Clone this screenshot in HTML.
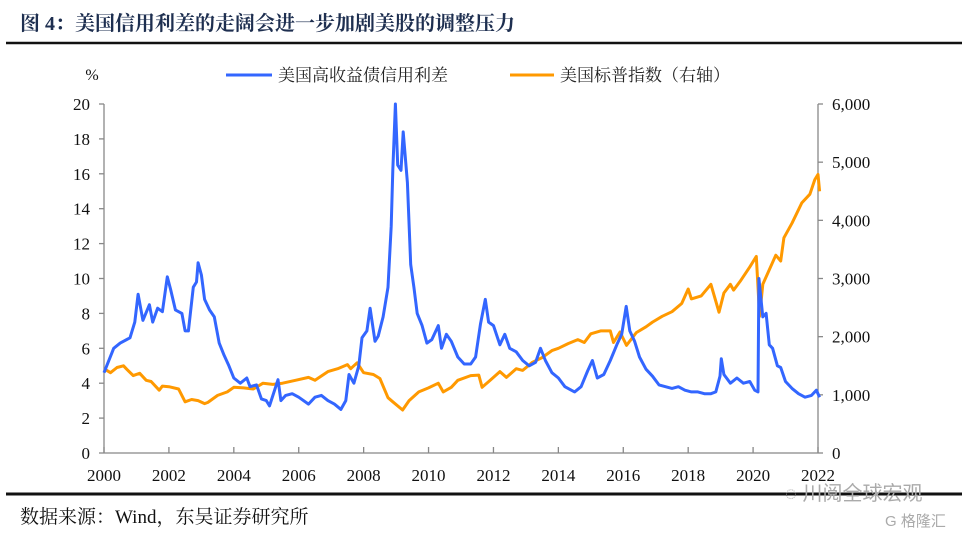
<!DOCTYPE html>
<html><head><meta charset="utf-8">
<style>
body{margin:0;background:#fff;width:968px;height:536px;overflow:hidden;}
svg{display:block}
svg text{font-family:"Liberation Serif","Noto Serif CJK SC",serif;}
svg text.wm{font-family:"Liberation Sans","Noto Sans CJK SC",sans-serif;}
</style></head>
<body>
<svg id="c" width="968" height="536">
<text x="20" y="30" font-size="20" font-weight="bold" fill="#1e2f50">图 4：美国信用利差的走阔会进一步加剧美股的调整压力</text>
<line x1="6" y1="43" x2="962" y2="43" stroke="#111" stroke-width="2.5"/>
<line x1="6" y1="494" x2="962" y2="494" stroke="#111" stroke-width="3"/>
<text x="20" y="523" font-size="19" fill="#111">数据来源：Wind，东吴证券研究所</text>
<text class="wm" x="785" y="500" font-size="20" fill="#aaa">◌ 川阅全球宏观</text>
<text class="wm" x="885" y="526" font-size="15" fill="#aaa">G 格隆汇</text>
<text x="92" y="80" font-size="16" fill="#111" text-anchor="middle">%</text>
<line x1="226" y1="75" x2="272" y2="75" stroke="#3366ff" stroke-width="3"/>
<text x="278" y="81" font-size="17" fill="#222">美国高收益债信用利差</text>
<line x1="510" y1="75" x2="554" y2="75" stroke="#ff9900" stroke-width="3"/>
<text x="560" y="81" font-size="17" fill="#222">美国标普指数（右轴）</text>
<g id="axes"></g>
<g id="series"></g>
</svg>
<script>
const spreadYears=[2000.0,2000.3,2000.5,2000.8,2000.95,2001.05,2001.2,2001.4,2001.5,2001.65,2001.8,2001.95,2002.05,2002.2,2002.4,2002.5,2002.6,2002.75,2002.85,2002.9,2003.0,2003.1,2003.25,2003.4,2003.55,2003.7,2003.85,2004.0,2004.2,2004.4,2004.5,2004.7,2004.85,2005.0,2005.1,2005.36,2005.45,2005.6,2005.8,2006.0,2006.3,2006.5,2006.7,2006.9,2007.1,2007.3,2007.45,2007.55,2007.7,2007.85,2007.95,2008.1,2008.2,2008.35,2008.45,2008.6,2008.75,2008.85,2008.9,2008.98,2009.05,2009.15,2009.22,2009.35,2009.45,2009.55,2009.65,2009.8,2009.95,2010.1,2010.3,2010.4,2010.55,2010.7,2010.9,2011.1,2011.3,2011.45,2011.6,2011.75,2011.85,2012.0,2012.2,2012.35,2012.5,2012.7,2012.9,2013.1,2013.3,2013.45,2013.6,2013.8,2014.0,2014.2,2014.4,2014.5,2014.7,2014.9,2015.05,2015.2,2015.4,2015.6,2015.8,2015.95,2016.09,2016.2,2016.35,2016.5,2016.7,2016.9,2017.1,2017.3,2017.5,2017.7,2017.9,2018.1,2018.3,2018.5,2018.7,2018.85,2018.98,2019.02,2019.1,2019.3,2019.5,2019.7,2019.9,2020.05,2020.15,2020.18,2020.3,2020.4,2020.5,2020.6,2020.75,2020.85,2021.0,2021.2,2021.4,2021.6,2021.8,2021.95,2022.05];
const spreadValues=[4.6,6.0,6.3,6.6,7.5,9.1,7.6,8.5,7.5,8.3,8.1,10.1,9.4,8.2,8.0,7.0,7.0,9.5,9.8,10.9,10.2,8.8,8.2,7.8,6.3,5.6,5.0,4.3,4.0,4.3,3.8,3.9,3.1,3.0,2.7,4.2,3.0,3.3,3.4,3.2,2.8,3.2,3.3,3.0,2.8,2.5,3.0,4.5,4.0,5.0,6.6,7.0,8.3,6.4,6.7,7.8,9.5,13.0,16.2,20.0,16.5,16.2,18.4,15.5,10.8,9.5,8.0,7.3,6.3,6.5,7.3,6.0,6.8,6.4,5.5,5.1,5.1,5.5,7.4,8.8,7.5,7.3,6.2,6.8,6.0,5.8,5.3,5.0,5.2,6.0,5.3,4.6,4.3,3.8,3.6,3.5,3.8,4.7,5.3,4.3,4.5,5.3,6.2,6.8,8.4,7.0,6.4,5.5,4.8,4.4,3.9,3.8,3.7,3.8,3.6,3.5,3.5,3.4,3.4,3.5,4.4,5.4,4.5,4.0,4.3,4.0,4.1,3.6,3.5,10.0,7.8,8.0,6.2,6.0,5.0,4.9,4.1,3.7,3.4,3.2,3.3,3.6,3.2];
const spxYears=[2000.0,2000.2,2000.4,2000.6,2000.7,2000.9,2001.1,2001.3,2001.45,2001.7,2001.8,2002.0,2002.3,2002.5,2002.7,2002.9,2003.1,2003.2,2003.5,2003.8,2004.0,2004.3,2004.6,2004.9,2005.2,2005.5,2005.9,2006.3,2006.5,2006.9,2007.2,2007.5,2007.6,2007.8,2008.0,2008.3,2008.5,2008.75,2008.9,2009.2,2009.4,2009.7,2010.0,2010.3,2010.45,2010.7,2010.9,2011.3,2011.55,2011.65,2011.9,2012.2,2012.4,2012.7,2012.9,2013.2,2013.5,2013.8,2014.0,2014.3,2014.6,2014.8,2015.0,2015.3,2015.6,2015.7,2015.9,2016.1,2016.4,2016.7,2016.9,2017.2,2017.5,2017.8,2018.0,2018.1,2018.4,2018.7,2018.95,2019.1,2019.3,2019.4,2019.6,2019.9,2020.1,2020.2,2020.3,2020.5,2020.7,2020.85,2020.95,2021.2,2021.5,2021.75,2021.9,2022.0,2022.05];
const spxValues=[1450,1380,1470,1500,1440,1330,1370,1250,1230,1080,1150,1140,1100,880,920,900,850,870,990,1050,1130,1120,1100,1200,1180,1200,1250,1300,1250,1400,1450,1520,1450,1550,1380,1350,1280,950,880,740,900,1050,1120,1200,1050,1130,1250,1330,1340,1130,1250,1400,1300,1450,1420,1560,1640,1760,1800,1880,1950,1900,2050,2100,2100,1900,2080,1850,2070,2170,2250,2350,2430,2570,2820,2650,2700,2900,2420,2750,2900,2800,2950,3200,3380,2350,2900,3150,3400,3300,3700,3950,4300,4450,4700,4790,4500];
const xTicks=[2000,2002,2004,2006,2008,2010,2012,2014,2016,2018,2020,2022];
const leftTicks=[0,2,4,6,8,10,12,14,16,18,20];
const rightTicks=[0,1000,2000,3000,4000,5000,6000];
const rightTickLabels=["0","1,000","2,000","3,000","4,000","5,000","6,000"];

const X0=104,X1=818,Y0=453,Y1=104;
const xs=v=>X0+(v-2000)/22*(X1-X0);
const yl=v=>Y0-v/20*(Y0-Y1);
const yr=v=>Y0-v/6000*(Y0-Y1);
const NS="http://www.w3.org/2000/svg";
function mk(tag,attrs,parent,txt){const e=document.createElementNS(NS,tag);for(const k in attrs)e.setAttribute(k,attrs[k]);if(txt!==undefined)e.textContent=txt;parent.appendChild(e);return e;}
const ax=document.getElementById('axes'),se=document.getElementById('series');
const st={stroke:"#888","stroke-width":1.3};
let l=mk('line',Object.assign({x1:X0,y1:Y1,x2:X0,y2:Y0},st),ax);


l=mk('line',Object.assign({x1:X1,y1:Y1,x2:X1,y2:Y0},st),ax);


l=mk('line',Object.assign({x1:X0,y1:Y0,x2:X1,y2:Y0},st),ax);


const tf={"font-size":17,fill:"#111"};
leftTicks.forEach(v=>{const y=yl(v);
 mk('line',Object.assign({x1:X0-5,y1:y,x2:X0,y2:y},st),ax);
 const t=mk('text',Object.assign({x:X0-14,y:y+6,"text-anchor":"end"},tf),ax,String(v));
 
 });
rightTicks.forEach((v,i)=>{const y=yr(v);
 mk('line',Object.assign({x1:X1,y1:y,x2:X1+5,y2:y},st),ax);
 const t=mk('text',Object.assign({x:X1+14,y:y+6,"text-anchor":"start"},tf),ax,rightTickLabels[i]);
 
 });
xTicks.forEach(v=>{const x=xs(v);
 mk('line',Object.assign({x1:x,y1:Y0-6,x2:x,y2:Y0},st),ax);
 const t=mk('text',Object.assign({x:x,y:Y0+28,"text-anchor":"middle"},tf),ax,String(v));
 
 });
function path(xsArr,vals,f){return xsArr.map((d,i)=>(i?'L':'M')+xs(d).toFixed(1)+','+f(vals[i]).toFixed(1)).join('');}
let p=mk('path',{d:path(spxYears,spxValues,yr),fill:"none",stroke:"#ff9900","stroke-width":3,"stroke-linejoin":"round"},se);


p=mk('path',{d:path(spreadYears,spreadValues,yl),fill:"none",stroke:"#3366ff","stroke-width":3,"stroke-linejoin":"round"},se);


</script>
</body></html>
